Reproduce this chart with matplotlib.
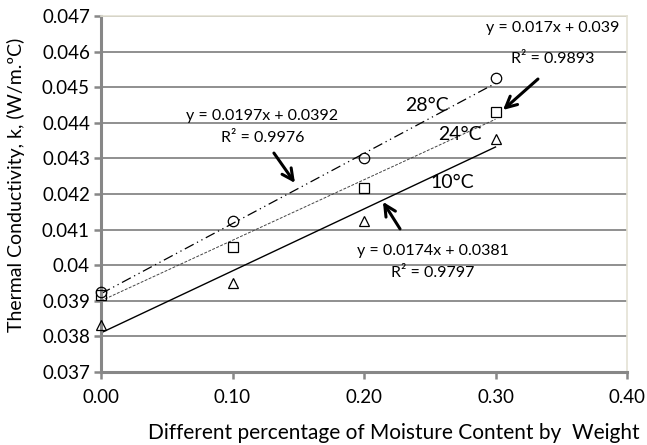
import numpy as np
from matplotlib import pyplot as plt

# moisture content (fraction by weight)
moisture = [0.0, 0.1, 0.2, 0.3]

# measured thermal conductivity, W/m.C
k_28 = [0.03926, 0.04125, 0.0430, 0.04525]
k_24 = [0.03916, 0.04051, 0.04216, 0.04429]
k_10 = [0.03832, 0.0395, 0.04125, 0.04354]

# trendline coefficients (slope, intercept) as printed on the chart
fit_28 = (0.0197, 0.0392)
fit_24 = (0.017, 0.039)
fit_10 = (0.0174, 0.0381)

x_ticks = [0.0, 0.1, 0.2, 0.3, 0.4]
y_ticks = [0.037, 0.038, 0.039, 0.040, 0.041, 0.042, 0.043, 0.044, 0.045, 0.046, 0.047]
y_tick_labels = ["0.037", "0.038", "0.039", "0.04", "0.041", "0.042",
                 "0.043", "0.044", "0.045", "0.046", "0.047"]

plt.rcParams["font.family"] = ["Lato", "DejaVu Sans"]

fig = plt.figure(figsize=(6.47, 4.45), dpi=100)
ax = fig.add_axes([101 / 647, 1 - 372 / 445, 526 / 647, 356 / 445])

grid_col = "#878787"
ax.set_axisbelow(True)
ax.yaxis.grid(True, color=grid_col, linewidth=1.3)

# trendlines
xs = np.array([moisture[0], moisture[-1]])
ax.plot(xs, fit_10[0] * xs + fit_10[1], color="black", linewidth=1.0)
ax.plot(xs, fit_24[0] * xs + fit_24[1], color="#444444", linewidth=0.7,
        linestyle=(0, (3, 1.5)))
ax.plot(xs, fit_28[0] * xs + fit_28[1], color="black", linewidth=0.9,
        linestyle=(0, (8, 3, 1, 3, 1, 3)))

# measured points, drawn over the axis line
mk = dict(linestyle="none", markersize=7.5, markerfacecolor="none",
          markeredgecolor="black", markeredgewidth=0.9, clip_on=False, zorder=4)
ax.plot(moisture, k_28, marker="o", **mk)
ax.plot(moisture, k_24, marker="s", **mk)
ax.plot(moisture, k_10, marker="^", **mk)

ax.set_xlim(0, 0.4)
ax.set_ylim(0.037, 0.047)
ax.set_xticks(x_ticks)
ax.set_xticklabels([f"{v:.2f}" for v in x_ticks])
ax.set_yticks(y_ticks)
ax.set_yticklabels(y_tick_labels)
ax.tick_params(axis="both", direction="out", length=5, width=1.8,
               color=grid_col, labelsize=13.5, labelcolor="black")
ax.tick_params(axis="x", pad=7)
ax.tick_params(axis="y", pad=3)

for side in ["left", "bottom"]:
    ax.spines[side].set_color(grid_col)
    ax.spines[side].set_linewidth(2.2)
for side in ["top", "right"]:
    ax.spines[side].set_color("#e4e2d4")
    ax.spines[side].set_linewidth(1.2)

# temperature labels
ax.text(0.2479, 0.0445, "28°C", fontsize=14, ha="center", va="center")
ax.text(0.2730, 0.04366, "24°C", fontsize=14, ha="center", va="center")
ax.text(0.2670, 0.04231, "10°C", fontsize=14, ha="center", va="center")

# trendline equations
eq_fs = 11.5
ax.text(0.3437, 0.04666, "y = 0.017x + 0.039", fontsize=eq_fs, ha="center", va="center")
ax.text(0.3437, 0.04579, "R² = 0.9893", fontsize=eq_fs, ha="center", va="center")
ax.text(0.1224, 0.04419, "y = 0.0197x + 0.0392", fontsize=eq_fs, ha="center", va="center")
ax.text(0.1232, 0.04357, "R² = 0.9976", fontsize=eq_fs, ha="center", va="center")
ax.text(0.2524, 0.04040, "y = 0.0174x + 0.0381", fontsize=eq_fs, ha="center", va="center")
ax.text(0.2524, 0.03978, "R² = 0.9797", fontsize=eq_fs, ha="center", va="center")

arrow = dict(arrowstyle="->,head_length=0.8,head_width=0.4", color="black",
             linewidth=2.2, shrinkA=0, shrinkB=0)
ax.annotate("", xy=(0.1475, 0.04231), xytext=(0.1315, 0.04315), arrowprops=arrow)
ax.annotate("", xy=(0.3057, 0.04436), xytext=(0.3323, 0.04523), arrowprops=arrow)
ax.annotate("", xy=(0.2144, 0.04178), xytext=(0.2274, 0.04102), arrowprops=arrow)

fig.text(394 / 647, 1 - 433 / 445, "Different percentage of Moisture Content by  Weight",
         fontsize=15, ha="center", va="center")
fig.text(16 / 647, 1 - 185 / 445, "Thermal Conductivity, k, (W/m.ºC)",
         fontsize=14, ha="center", va="center", rotation=90)

fig.savefig("out.png", dpi=100)
